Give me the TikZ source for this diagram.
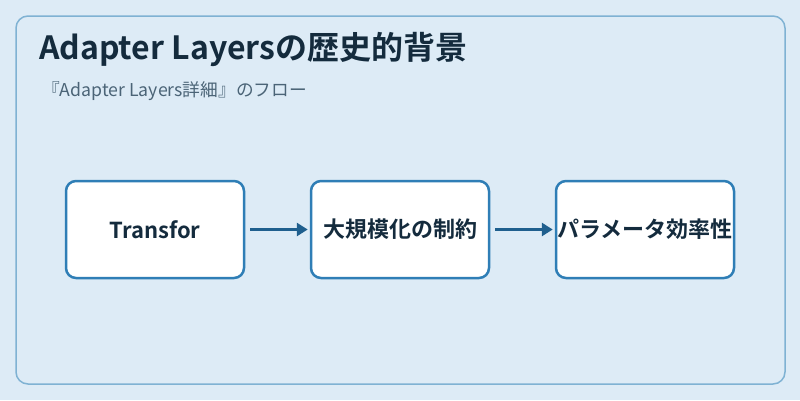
\documentclass[tikz,border=0pt]{standalone}
\usepackage{fontspec}
\setmainfont{Noto Sans CJK JP}
\newfontfamily\jpbold{Noto Sans CJK JP Bold}
\usetikzlibrary{arrows.meta}
\definecolor{bgc}{HTML}{DDEBF6}
\definecolor{panelc}{HTML}{7FB2D3}
\definecolor{boxc}{HTML}{2F7EB6}
\definecolor{arrowc}{HTML}{1F5F8E}
\definecolor{titlec}{HTML}{142B3D}
\definecolor{subc}{HTML}{4B6477}
\newcommand\boxtext[1]{\raisebox{-3pt}{#1}}
\tikzset{
  stepbox/.style={draw=boxc, line width=2.5pt, fill=white, rounded corners=10pt,
    minimum width=178pt, minimum height=97pt, inner sep=0pt,
    font=\jpbold\fontsize{22}{26}\selectfont, text=titlec},
  flow/.style={draw=arrowc, line width=3.5pt, -{Triangle[length=11pt,width=13pt]}}
}
\begin{document}
\begin{tikzpicture}[x=1pt,y=-1pt]
\fill[bgc] (0,0) rectangle (800,400);
\useasboundingbox (0,0) rectangle (800,400);
\draw[panelc, line width=1.5pt, rounded corners=12pt, fill=bgc] (16,16) rectangle (785,384);
\node[anchor=base west, inner sep=0pt, text=titlec, font=\jpbold\fontsize{32}{38}\selectfont] (title) at (39,59) {Adapter Layersの歴史的背景};
\node[anchor=base west, inner sep=0pt, text=subc, font=\fontsize{17.7}{21}\selectfont] (sub) at (42,96) {『Adapter Layers詳細』のフロー};
\node[stepbox] (b1) at (155,229.5) {\boxtext{Transfor}};
\node[stepbox] (b2) at (400,229.5) {\boxtext{大規模化の制約}};
\node[stepbox] (b3) at (645,229.5) {\boxtext{パラメータ効率性}};
\draw[flow] ([xshift=5pt]b1.east) -- ([xshift=-2pt]b2.west);
\draw[flow] ([xshift=5pt]b2.east) -- ([xshift=-2pt]b3.west);
\end{tikzpicture}
\end{document}
